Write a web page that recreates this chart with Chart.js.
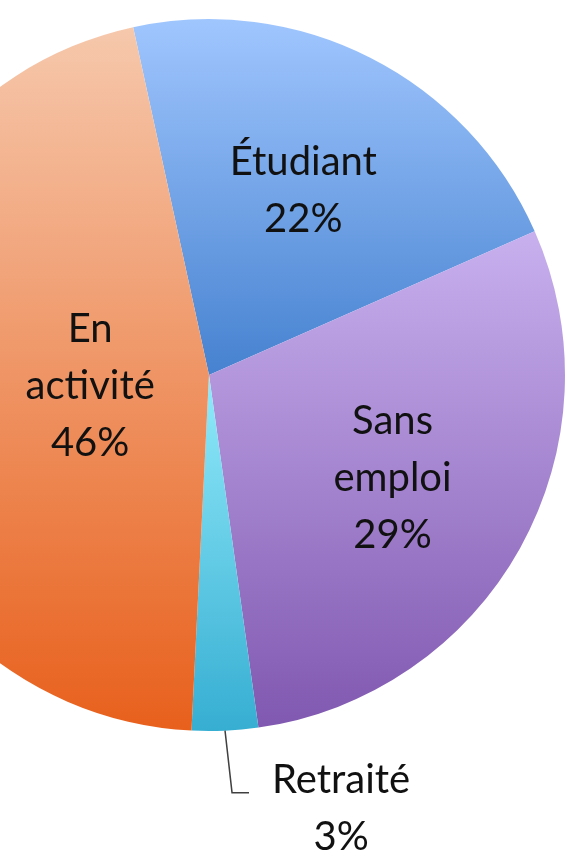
<!DOCTYPE html>
<html>
<head>
<meta charset="utf-8">
<script src="https://cdn.jsdelivr.net/npm/chart.js@4/dist/chart.umd.min.js"></script>
<style>
    html, body { margin: 0; padding: 0; background: #fff; overflow: hidden; width: 567px; height: 857px; }
    #wrap { position: absolute; left: -151px; top: 0; width: 720px; height: 857px; }
</style>
</head>
<body>
<div id="wrap"><canvas id="pie" width="720" height="857"></canvas></div>
<script>
const categories = ["Étudiant", "Sans emploi", "Retraité", "En activité"];
const shares = [21.8, 29.4, 3.0, 45.8];
const labelLines = [["Étudiant"], ["Sans", "emploi"], ["Retraité"], ["En", "activité"]];
const topColors = ["#a0c6fe", "#c8b0ee", "#92eafa", "#f6c8ac"];
const bottomColors = ["#4682d0", "#8058b0", "#36aed2", "#e8601c"];

const rotationDeg = -12.3;
const pieRadius = 356;
const fontSpec = "40px Lato";
const lineGap = 57;

// where each label sits: fraction of the radius, or outside with a leader line
const labelPlace = [
    { fraction: 0.585 },
    { fraction: 0.59 },
    { outside: true, elbowDx: 7, elbowDy: 62, run: 17, gap: 23 },
    { fraction: 0.335 }
];

function sliceGradient(context) {
    const chart = context.chart;
    const area = chart.chartArea;
    const i = context.dataIndex;
    if (!area) return bottomColors[i];

    const cy = (area.top + area.bottom) / 2;
    const total = shares.reduce((a, b) => a + b, 0);
    let start = rotationDeg;
    for (let k = 0; k < i; k++) start += shares[k] / total * 360;
    const end = start + shares[i] / total * 360;

    // vertical extent of the slice, angles measured clockwise from the top
    const ys = [cy, cy - pieRadius * Math.cos(start * Math.PI / 180), cy - pieRadius * Math.cos(end * Math.PI / 180)];
    for (let a = Math.ceil(start / 180) * 180; a <= end; a += 180) {
        ys.push(cy - pieRadius * Math.cos(a * Math.PI / 180));
    }
    const g = chart.ctx.createLinearGradient(0, Math.min(...ys), 0, Math.max(...ys));
    g.addColorStop(0, topColors[i]);
    g.addColorStop(1, bottomColors[i]);
    return g;
}

const labelPlugin = {
    id: "sliceLabels",
    afterDatasetsDraw(chart) {
        const ctx = chart.ctx;
        const arcs = chart.getDatasetMeta(0).data;
        const total = shares.reduce((a, b) => a + b, 0);

        ctx.save();
        ctx.font = fontSpec;
        ctx.fillStyle = "#111";
        ctx.textAlign = "center";
        ctx.textBaseline = "alphabetic";

        arcs.forEach((arc, i) => {
            const mid = (arc.startAngle + arc.endAngle) / 2;
            const place = labelPlace[i];
            const lines = labelLines[i].concat([Math.round(shares[i] / total * 100) + "%"]);
            let cx, cy;

            if (place.outside) {
                const ex = arc.x + Math.cos(mid) * arc.outerRadius;
                const ey = arc.y + Math.sin(mid) * arc.outerRadius;
                const bx = ex + place.elbowDx;
                const by = ey + place.elbowDy;
                ctx.beginPath();
                ctx.strokeStyle = "#404040";
                ctx.lineWidth = 1.5;
                ctx.moveTo(ex, ey);
                ctx.lineTo(bx, by);
                ctx.lineTo(bx + place.run, by);
                ctx.stroke();

                const w = Math.max(...lines.map(t => ctx.measureText(t).width));
                cx = bx + place.run + place.gap + w / 2;
                cy = by + (lines.length - 1) / 2 * lineGap - 14;
            }
            else {
                const r = arc.outerRadius * place.fraction;
                cx = arc.x + Math.cos(mid) * r;
                cy = arc.y + Math.sin(mid) * r;
            }

            lines.forEach((text, j) => {
                ctx.fillText(text, cx, cy + (j - (lines.length - 1) / 2) * lineGap + 14);
            });
        });
        ctx.restore();
    }
};

new Chart(
    document.getElementById("pie"),
    {
        type: "pie",
        data: {
            labels: categories,
            datasets: [{
                data: shares,
                backgroundColor: sliceGradient,
                borderWidth: 0
            }]
        },
        options: {
            responsive: false,
            animation: false,
            rotation: rotationDeg,
            radius: pieRadius,
            layout: { padding: { top: 15, bottom: 122, left: 0, right: 0 } },
            plugins: {
                legend: { display: false },
                tooltip: { enabled: false }
            }
        },
        plugins: [labelPlugin]
    }
);
</script>
</body>
</html>
